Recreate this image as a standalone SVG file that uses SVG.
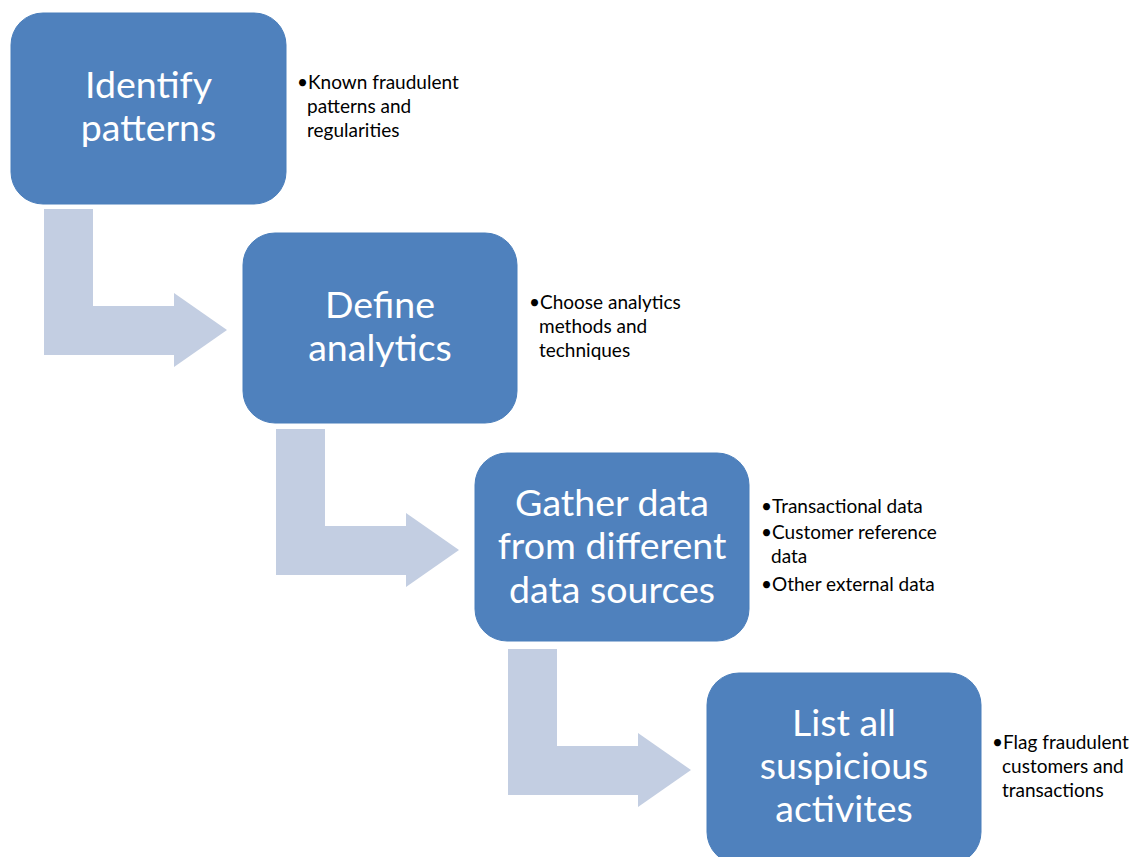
<svg xmlns="http://www.w3.org/2000/svg" width="1143" height="857" viewBox="0 0 1143 857">
  <style>
    .step { fill: #4F81BD; stroke: #4A7EBB; stroke-width: 1; }
    .title { font-family: Lato, "Open Sans", sans-serif; font-size: 37.5px; fill: #FFFFFF; text-anchor: middle; }
    .note { font-family: Lato, "Open Sans", sans-serif; font-size: 19px; fill: #000000; }
    .bend { fill: #C3CEE2; }
  </style>
  <defs>
    <!-- bent arrow, drawn from the origin of each step -->
    <path id="bentArrow" d="M0,0 H49 V97 H130 V84 L183,121 L130,158 V146 H0 Z"/>
  </defs>

  <!-- connectors between steps -->
  <g id="connectors" class="bend">
    <use href="#bentArrow" x="44" y="209"/>
    <use href="#bentArrow" x="276" y="429"/>
    <use href="#bentArrow" x="508" y="649"/>
  </g>

  <g id="step-identify">
    <rect class="step" x="11" y="13" width="275" height="191" rx="32"/>
    <text class="title" x="148.5" y="98">Identify</text>
    <text class="title" x="148.5" y="141">patterns</text>
    <text class="note" x="297" y="89">•Known fraudulent</text>
    <text class="note" x="307" y="113">patterns and</text>
    <text class="note" x="307" y="137">regularities</text>
  </g>

  <g id="step-define">
    <rect class="step" x="243" y="233" width="274" height="190" rx="32"/>
    <text class="title" x="380" y="318">Define</text>
    <text class="title" x="380" y="361">analytics</text>
    <text class="note" x="529" y="309">•Choose analytics</text>
    <text class="note" x="539" y="333">methods and</text>
    <text class="note" x="539" y="357">techniques</text>
  </g>

  <g id="step-gather">
    <rect class="step" x="475" y="453" width="274" height="188" rx="32"/>
    <text class="title" x="612" y="516">Gather data</text>
    <text class="title" x="612" y="559">from different</text>
    <text class="title" x="612" y="603">data sources</text>
    <text class="note" x="761" y="513">•Transactional data</text>
    <text class="note" x="761" y="539">•Customer reference</text>
    <text class="note" x="771" y="563">data</text>
    <text class="note" x="761" y="591">•Other external data</text>
  </g>

  <g id="step-list">
    <rect class="step" x="707" y="673" width="274" height="191" rx="32"/>
    <text class="title" x="844" y="736">List all</text>
    <text class="title" x="844" y="779">suspicious</text>
    <text class="title" x="844" y="822">activites</text>
    <text class="note" x="992" y="749">•Flag fraudulent</text>
    <text class="note" x="1002" y="773">customers and</text>
    <text class="note" x="1002" y="797">transactions</text>
  </g>
</svg>
